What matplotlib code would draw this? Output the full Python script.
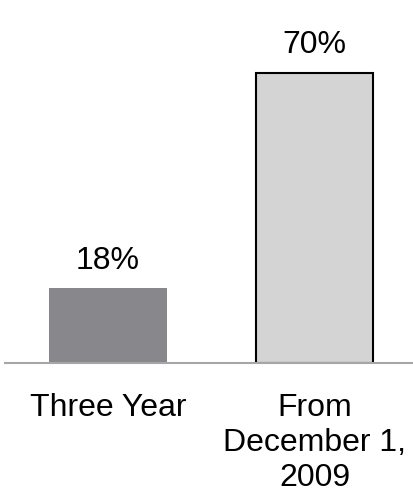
import matplotlib
matplotlib.use("Agg")
import matplotlib.pyplot as plt

categories = ["Three Year", "From\nDecember 1,\n2009"]
values = [18, 70]
value_labels = ["18%", "70%"]
fill_colors = ["#88878b", "#d4d4d4"]
edge_colors = ["none", "black"]

plt.rcParams["font.family"] = ["Liberation Sans", "DejaVu Sans"]

W, H = 413, 489
fig = plt.figure(figsize=(W / 100, H / 100), dpi=100)
base_px = 364
ax = fig.add_axes([5 / W, (H - base_px) / H, (W - 5) / W, base_px / H])

x = list(range(len(categories)))
bars = ax.bar(x, values, width=0.57, color=fill_colors, edgecolor=edge_colors,
              linewidth=1.5, zorder=2)

for xi, v, lab in zip(x, values, value_labels):
    ax.annotate(lab, (xi, v), xytext=(0, 9.5), textcoords="offset points",
                ha="center", va="bottom", fontsize=23)

ax.set_xlim(-0.499, 1.477)
ax.set_ylim(0, base_px / 4.15)

for side in ["top", "right", "left"]:
    ax.spines[side].set_visible(False)
ax.spines["bottom"].set_color("#a6a6a6")
ax.spines["bottom"].set_linewidth(1.5)
ax.spines["bottom"].set_zorder(3)

ax.set_yticks([])
ax.set_xticks(x)
ax.set_xticklabels(categories, fontsize=23, linespacing=1.21)
ax.tick_params(axis="x", length=0, pad=21)
ax.patch.set_alpha(0)

fig.savefig("out.png", dpi=100)
